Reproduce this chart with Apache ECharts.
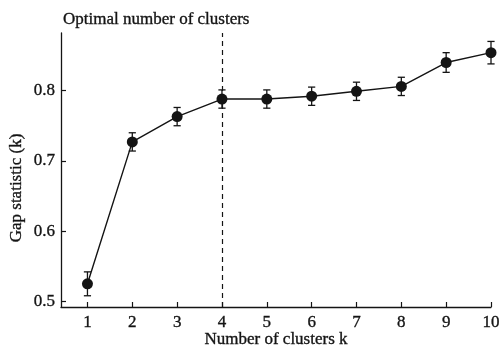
<!DOCTYPE html>
<html>
<head>
<meta charset="utf-8">
<script src="https://cdn.jsdelivr.net/npm/echarts@6/dist/echarts.min.js"></script>
<style>
  html, body { margin: 0; padding: 0; background: #fff; }
  #chart { width: 501px; height: 348px; }
</style>
</head>
<body>
<div id="chart"></div>
<script>
// Gap statistic for k = 1..10 with standard-error bars
const clusterCounts = [1, 2, 3, 4, 5, 6, 7, 8, 9, 10];
const gapValues = [0.525, 0.727, 0.763, 0.788, 0.788, 0.792, 0.799, 0.806, 0.840, 0.854];
const gapErrors = [0.017, 0.013, 0.013, 0.013, 0.013, 0.013, 0.013, 0.013, 0.014, 0.016];
const optimalK = 4;
const yTickValues = [0.5, 0.6, 0.7, 0.8];
const xTickValues = [1, 2, 3, 4, 5, 6, 7, 8, 9, 10];

const serif = '"Liberation Serif", "DejaVu Serif", serif';
const ink = '#141414';
// a thin outline in the text colour gives the glyphs a heavier weight
const heavy = { textBorderColor: ink, textBorderWidth: 0.35 };

const linePoints = clusterCounts.map((k, i) => [k, gapValues[i]]);
const errorRows = clusterCounts.map((k, i) => [k, gapValues[i] - gapErrors[i], gapValues[i] + gapErrors[i]]);

const chart = echarts.init(document.getElementById('chart'), null, { renderer: 'canvas' });

chart.setOption({
  animation: false,
  backgroundColor: '#fff',
  title: {
    text: 'Optimal number of clusters',
    left: 58,
    top: 6,
    textStyle: Object.assign({ fontFamily: serif, fontSize: 17, fontWeight: 'normal', color: ink }, heavy)
  },
  grid: { left: 61, right: 10, top: 33, bottom: 41, outerBoundsMode: 'none', containLabel: false },
  xAxis: {
    type: 'value',
    min: 0.41,
    max: 10,
    name: 'Number of clusters k',
    nameLocation: 'middle',
    nameGap: 24,
    nameMoveOverlap: false,
    nameTextStyle: Object.assign({ fontFamily: serif, fontSize: 17, color: ink }, heavy),
    axisLine: { show: true, lineStyle: { color: ink, width: 1.3 } },
    axisTick: { show: true, inside: true, length: 5, customValues: xTickValues, lineStyle: { color: ink, width: 1.2 } },
    axisLabel: Object.assign({ customValues: xTickValues, fontFamily: serif, fontSize: 17, color: ink, margin: 7 }, heavy),
    splitLine: { show: false }
  },
  yAxis: {
    type: 'value',
    min: 0.492,
    max: 0.882,
    axisLine: { show: true, lineStyle: { color: ink, width: 1.3 } },
    axisTick: { show: true, inside: true, length: 5, customValues: yTickValues, lineStyle: { color: ink, width: 1.2 } },
    axisLabel: Object.assign({ customValues: yTickValues, fontFamily: serif, fontSize: 17, color: ink, margin: 6,
      formatter: v => v.toFixed(1) }, heavy),
    splitLine: { show: false }
  },
  graphic: [{
    type: 'text',
    x: 17,
    y: 188,
    rotation: Math.PI / 2,
    style: {
      text: 'Gap statistic (k)',
      fontFamily: serif,
      fontSize: 17,
      fill: ink,
      stroke: ink,
      lineWidth: 0.35,
      align: 'center',
      verticalAlign: 'middle'
    }
  }],
  series: [
    {
      type: 'line',
      data: linePoints,
      symbol: 'circle',
      symbolSize: 11,
      itemStyle: { color: ink },
      lineStyle: { color: ink, width: 1.4 },
      z: 3,
      markLine: {
        silent: true,
        symbol: 'none',
        label: { show: false },
        lineStyle: { color: ink, type: [5, 4], width: 1.2 },
        data: [{ xAxis: optimalK }]
      }
    },
    {
      type: 'custom',
      data: errorRows,
      z: 4,
      renderItem: (params, api) => {
        const k = api.value(0);
        const lo = api.coord([k, api.value(1)]);
        const hi = api.coord([k, api.value(2)]);
        const cap = 3.6;
        const style = { stroke: ink, lineWidth: 1.3 };
        return {
          type: 'group',
          children: [
            { type: 'line', shape: { x1: lo[0], y1: lo[1], x2: hi[0], y2: hi[1] }, style },
            { type: 'line', shape: { x1: lo[0] - cap, y1: lo[1], x2: lo[0] + cap, y2: lo[1] }, style },
            { type: 'line', shape: { x1: hi[0] - cap, y1: hi[1], x2: hi[0] + cap, y2: hi[1] }, style }
          ]
        };
      }
    }
  ]
});
</script>
</body>
</html>
